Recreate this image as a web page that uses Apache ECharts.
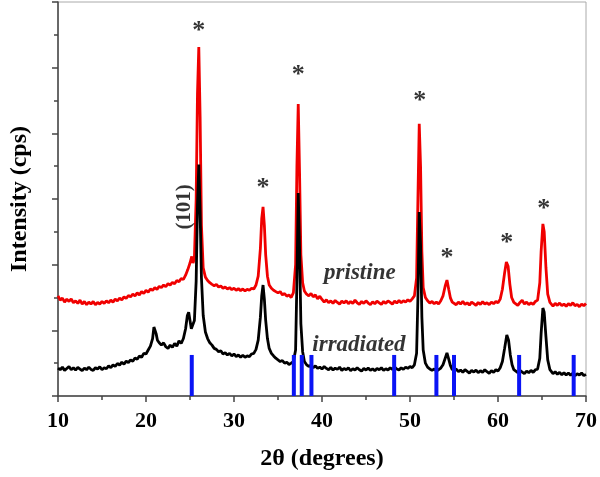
<!DOCTYPE html>
<html>
<head>
<meta charset="utf-8">
<script src="https://cdn.jsdelivr.net/npm/echarts@6/dist/echarts.min.js"></script>
<style>
  html, body { margin: 0; padding: 0; background: #fff; }
  #xrd { width: 600px; height: 477px; }
</style>
</head>
<body>
<div id="xrd"></div>
<script>
// x tick labels (2θ)
const xTicks = [10, 20, 30, 40, 50, 60, 70]

// irradiated (black) pattern, [2θ, intensity]
const irradiated = [
  [10.0, 0.85], [10.25, 0.80], [10.5, 0.88], [10.75, 0.78], [11.0, 0.84], [11.25, 0.90], [11.5, 0.80], [11.75, 0.86],
  [12.0, 0.79], [12.25, 0.87], [12.5, 0.82], [12.75, 0.77], [13.0, 0.85], [13.25, 0.80], [13.5, 0.88], [13.75, 0.81],
  [14.0, 0.78], [14.25, 0.86], [14.5, 0.82], [14.75, 0.89], [15.0, 0.80], [15.25, 0.86], [15.5, 0.83], [15.75, 0.92],
  [16.0, 0.86], [16.25, 0.95], [16.5, 0.90], [16.75, 0.99], [17.0, 0.94], [17.25, 1.03], [17.5, 0.97], [17.75, 1.06],
  [18.0, 1.02], [18.25, 1.10], [18.5, 1.06], [18.75, 1.16], [19.0, 1.12], [19.25, 1.22], [19.5, 1.18], [19.75, 1.30],
  [20.0, 1.28], [20.25, 1.40], [20.5, 1.52], [20.75, 1.75], [20.9, 2.10], [21.0, 2.15], [21.15, 1.90], [21.3, 1.70],
  [21.5, 1.62], [21.75, 1.55], [22.0, 1.62], [22.25, 1.50], [22.5, 1.45], [22.75, 1.55], [23.0, 1.48], [23.25, 1.60],
  [23.5, 1.52], [23.75, 1.68], [24.0, 1.60], [24.25, 1.75], [24.5, 2.05], [24.7, 2.45], [24.85, 2.55], [25.0, 2.30],
  [25.15, 2.05], [25.3, 2.00], [25.5, 2.30], [25.7, 3.50], [25.85, 5.80], [26.0, 7.05], [26.15, 5.60], [26.3, 3.60],
  [26.5, 2.45], [26.75, 1.95], [27.0, 1.75], [27.25, 1.62], [27.5, 1.55], [27.75, 1.45], [28.0, 1.42], [28.25, 1.35],
  [28.5, 1.38], [28.75, 1.28], [29.0, 1.32], [29.25, 1.25], [29.5, 1.30], [29.75, 1.22], [30.0, 1.28], [30.25, 1.20],
  [30.5, 1.25], [30.75, 1.18], [31.0, 1.24], [31.25, 1.18], [31.5, 1.22], [31.75, 1.20], [32.0, 1.28], [32.25, 1.30],
  [32.5, 1.42], [32.75, 1.70], [33.0, 2.40], [33.15, 3.05], [33.3, 3.38], [33.45, 2.95], [33.6, 2.30], [33.8, 1.75],
  [34.0, 1.45], [34.25, 1.30], [34.5, 1.22], [34.75, 1.15], [35.0, 1.10], [35.25, 1.05], [35.5, 1.08], [35.75, 1.00],
  [36.0, 1.03], [36.25, 0.96], [36.5, 1.00], [36.75, 1.05], [37.0, 1.40], [37.15, 3.50], [37.3, 6.18], [37.45, 4.50],
  [37.6, 2.20], [37.8, 1.35], [38.0, 1.05], [38.25, 0.95], [38.5, 0.90], [38.75, 0.94], [39.0, 0.86], [39.25, 0.92],
  [39.5, 0.84], [39.75, 0.88], [40.0, 0.82], [40.25, 0.90], [40.5, 0.84], [40.75, 0.80], [41.0, 0.87], [41.25, 0.79],
  [41.5, 0.85], [41.75, 0.81], [42.0, 0.88], [42.25, 0.78], [42.5, 0.84], [42.75, 0.80], [43.0, 0.86], [43.25, 0.77],
  [43.5, 0.83], [43.75, 0.79], [44.0, 0.86], [44.25, 0.80], [44.5, 0.76], [44.75, 0.84], [45.0, 0.79], [45.25, 0.85],
  [45.5, 0.78], [45.75, 0.83], [46.0, 0.77], [46.25, 0.84], [46.5, 0.80], [46.75, 0.86], [47.0, 0.78], [47.25, 0.83],
  [47.5, 0.79], [47.75, 0.86], [48.0, 0.81], [48.25, 0.88], [48.5, 0.82], [48.75, 0.79], [49.0, 0.86], [49.25, 0.81],
  [49.5, 0.88], [49.75, 0.84], [50.0, 0.90], [50.25, 0.86], [50.5, 0.95], [50.75, 1.30], [50.9, 3.00], [51.05, 5.60],
  [51.2, 4.60], [51.35, 2.40], [51.5, 1.40], [51.75, 1.00], [52.0, 0.88], [52.25, 0.82], [52.5, 0.78], [52.75, 0.82],
  [53.0, 0.76], [53.25, 0.80], [53.5, 0.85], [53.75, 0.95], [54.0, 1.15], [54.2, 1.31], [54.4, 1.12], [54.6, 0.92],
  [54.8, 0.80], [55.0, 0.76], [55.25, 0.82], [55.5, 0.74], [55.75, 0.79], [56.0, 0.72], [56.25, 0.80], [56.5, 0.75],
  [56.75, 0.70], [57.0, 0.78], [57.25, 0.73], [57.5, 0.79], [57.75, 0.71], [58.0, 0.77], [58.25, 0.72], [58.5, 0.80],
  [58.75, 0.74], [59.0, 0.69], [59.25, 0.77], [59.5, 0.72], [59.75, 0.80], [60.0, 0.76], [60.25, 0.86], [60.5, 1.05],
  [60.75, 1.45], [61.0, 1.86], [61.2, 1.70], [61.4, 1.25], [61.6, 0.95], [61.8, 0.80], [62.0, 0.76], [62.25, 0.71],
  [62.5, 0.78], [62.75, 0.73], [63.0, 0.68], [63.25, 0.76], [63.5, 0.71], [63.75, 0.78], [64.0, 0.72], [64.25, 0.80],
  [64.5, 0.82], [64.75, 1.15], [64.9, 1.90], [65.1, 2.68], [65.25, 2.55], [65.45, 1.80], [65.65, 1.10], [65.9, 0.80],
  [66.0, 0.75], [66.25, 0.68], [66.5, 0.74], [66.75, 0.66], [67.0, 0.72], [67.25, 0.65], [67.5, 0.71], [67.75, 0.64],
  [68.0, 0.70], [68.25, 0.63], [68.5, 0.69], [68.75, 0.62], [69.0, 0.68], [69.25, 0.64], [69.5, 0.70], [69.75, 0.62],
  [70.0, 0.66]
]

// pristine (red) pattern, [2θ, intensity]
const pristine = [
  [10.0, 3.05], [10.25, 2.92], [10.5, 2.98], [10.75, 2.86], [11.0, 2.95], [11.25, 2.88], [11.5, 2.96], [11.75, 2.84],
  [12.0, 2.90], [12.25, 2.82], [12.5, 2.92], [12.75, 2.80], [13.0, 2.88], [13.25, 2.78], [13.5, 2.86], [13.75, 2.80],
  [14.0, 2.88], [14.25, 2.78], [14.5, 2.85], [14.75, 2.80], [15.0, 2.88], [15.25, 2.82], [15.5, 2.90], [15.75, 2.84],
  [16.0, 2.92], [16.25, 2.86], [16.5, 2.95], [16.75, 2.90], [17.0, 2.98], [17.25, 2.93], [17.5, 3.02], [17.75, 2.97],
  [18.0, 3.06], [18.25, 3.02], [18.5, 3.10], [18.75, 3.05], [19.0, 3.14], [19.25, 3.08], [19.5, 3.18], [19.75, 3.12],
  [20.0, 3.22], [20.25, 3.16], [20.5, 3.26], [20.75, 3.22], [21.0, 3.30], [21.25, 3.25], [21.5, 3.34], [21.75, 3.30],
  [22.0, 3.38], [22.25, 3.33], [22.5, 3.42], [22.75, 3.38], [23.0, 3.46], [23.25, 3.42], [23.5, 3.52], [23.75, 3.48],
  [24.0, 3.58], [24.25, 3.55], [24.5, 3.68], [24.75, 3.85], [25.0, 4.05], [25.2, 4.25], [25.35, 4.05], [25.5, 4.20],
  [25.7, 6.00], [25.85, 9.20], [26.0, 10.63], [26.15, 8.50], [26.3, 5.20], [26.5, 3.90], [26.75, 3.62], [27.0, 3.52],
  [27.25, 3.45], [27.5, 3.40], [27.75, 3.36], [28.0, 3.40], [28.25, 3.32], [28.5, 3.35], [28.75, 3.28], [29.0, 3.32],
  [29.25, 3.26], [29.5, 3.30], [29.75, 3.24], [30.0, 3.28], [30.25, 3.22], [30.5, 3.27], [30.75, 3.21], [31.0, 3.26],
  [31.25, 3.20], [31.5, 3.25], [31.75, 3.22], [32.0, 3.28], [32.25, 3.26], [32.5, 3.38], [32.75, 3.65], [33.0, 4.50],
  [33.15, 5.40], [33.3, 5.76], [33.45, 5.20], [33.6, 4.30], [33.8, 3.65], [34.0, 3.38], [34.25, 3.28], [34.5, 3.22],
  [34.75, 3.18], [35.0, 3.14], [35.25, 3.18], [35.5, 3.08], [35.75, 3.12], [36.0, 3.04], [36.25, 3.08], [36.5, 3.00],
  [36.75, 3.15], [37.0, 4.00], [37.15, 7.00], [37.3, 8.89], [37.45, 6.80], [37.6, 4.30], [37.8, 3.45], [38.0, 3.20],
  [38.25, 3.10], [38.5, 3.05], [38.75, 3.12], [39.0, 3.02], [39.25, 3.08], [39.5, 2.96], [39.75, 3.04], [40.0, 2.94],
  [40.25, 2.86], [40.5, 2.93], [40.75, 2.84], [41.0, 2.90], [41.25, 2.82], [41.5, 2.91], [41.75, 2.85], [42.0, 2.80],
  [42.25, 2.89], [42.5, 2.83], [42.75, 2.90], [43.0, 2.81], [43.25, 2.88], [43.5, 2.82], [43.75, 2.92], [44.0, 2.84],
  [44.25, 2.79], [44.5, 2.88], [44.75, 2.82], [45.0, 2.90], [45.25, 2.83], [45.5, 2.78], [45.75, 2.87], [46.0, 2.81],
  [46.25, 2.89], [46.5, 2.84], [46.75, 2.79], [47.0, 2.88], [47.25, 2.82], [47.5, 2.90], [47.75, 2.85], [48.0, 2.80],
  [48.25, 2.89], [48.5, 2.83], [48.75, 2.91], [49.0, 2.84], [49.25, 2.90], [49.5, 2.86], [49.75, 2.93], [50.0, 2.88],
  [50.25, 2.96], [50.5, 3.05], [50.75, 3.60], [50.9, 6.00], [51.05, 8.29], [51.2, 7.00], [51.35, 4.40], [51.5, 3.30],
  [51.75, 3.00], [52.0, 2.90], [52.25, 2.83], [52.5, 2.88], [52.75, 2.81], [53.0, 2.86], [53.25, 2.80], [53.5, 2.90],
  [53.75, 3.05], [54.0, 3.35], [54.2, 3.53], [54.4, 3.25], [54.6, 2.98], [54.8, 2.86], [55.0, 2.84], [55.25, 2.78],
  [55.5, 2.86], [55.75, 2.80], [56.0, 2.88], [56.25, 2.79], [56.5, 2.84], [56.75, 2.77], [57.0, 2.86], [57.25, 2.81],
  [57.5, 2.76], [57.75, 2.85], [58.0, 2.79], [58.25, 2.87], [58.5, 2.80], [58.75, 2.84], [59.0, 2.78], [59.25, 2.86],
  [59.5, 2.81], [59.75, 2.88], [60.0, 2.84], [60.25, 2.95], [60.5, 3.25], [60.75, 3.75], [60.95, 4.08], [61.15, 3.95],
  [61.35, 3.40], [61.55, 3.00], [61.8, 2.85], [62.0, 2.82], [62.25, 2.76], [62.5, 2.85], [62.75, 2.92], [63.0, 2.80],
  [63.25, 2.86], [63.5, 2.78], [63.75, 2.84], [64.0, 2.79], [64.25, 2.88], [64.5, 2.92], [64.75, 3.45], [64.9, 4.40],
  [65.1, 5.24], [65.25, 5.00], [65.45, 3.90], [65.65, 3.10], [65.9, 2.85], [66.0, 2.80], [66.25, 2.74], [66.5, 2.82],
  [66.75, 2.76], [67.0, 2.83], [67.25, 2.75], [67.5, 2.80], [67.75, 2.73], [68.0, 2.81], [68.25, 2.76], [68.5, 2.84],
  [68.75, 2.75], [69.0, 2.79], [69.25, 2.72], [69.5, 2.80], [69.75, 2.75], [70.0, 2.82]
]

// reference (blue) peak positions and stick height
const refPeaks = [25.2, 36.8, 37.7, 38.8, 48.2, 53.0, 55.0, 62.4, 68.6]
const refHeight = 1.25

// asterisk marks over the pristine peaks
const starX = [26.0, 33.3, 37.3, 51.1, 54.2, 61.0, 65.2]
const starY = [11.3, 6.52, 9.96, 9.17, 4.39, 4.84, 5.88]

// text annotations [x, y, text]
const notes = [
  [24.4, 5.76, '(101)'],
  [44.3, 3.75, 'pristine'],
  [44.2, 1.55, 'irradiated']
]

const serif = 'Liberation Serif'

const option = {
  animation: false,
  backgroundColor: '#fff',
  grid: {
    left: 55,
    right: 11,
    top: 2,
    bottom: 81,
    show: true,
    borderColor: '#aaa',
    borderWidth: 1
  },
  xAxis: {
    type: 'value',
    min: 10,
    max: 70,
    interval: 10,
    name: '2θ (degrees)',
    nameLocation: 'middle',
    nameGap: 51,
    nameTextStyle: { fontFamily: serif, fontWeight: 'bold', fontSize: 24, color: '#000' },
    axisLine: { lineStyle: { color: '#444', width: 1.5 } },
    axisTick: { show: true, length: 6, lineStyle: { color: '#444', width: 1.5 } },
    minorTick: { show: true, splitNumber: 2, length: 4, lineStyle: { color: '#444', width: 1.5 } },
    splitLine: { show: false },
    axisLabel: {
      fontFamily: serif, fontWeight: 'bold', fontSize: 22, color: '#000', margin: 14,
      formatter: (v) => (xTicks.indexOf(v) >= 0 ? String(v) : '')
    }
  },
  yAxis: {
    type: 'value',
    min: 0,
    max: 12,
    interval: 2,
    name: 'Intensity (cps)',
    nameLocation: 'middle',
    nameGap: 26,
    nameTextStyle: { fontFamily: serif, fontWeight: 'bold', fontSize: 24, color: '#000' },
    axisLine: { show: true, lineStyle: { color: '#444', width: 1.5 } },
    axisTick: { show: true, length: 6, lineStyle: { color: '#444', width: 1.5 } },
    minorTick: { show: true, splitNumber: 2, length: 4, lineStyle: { color: '#444', width: 1.5 } },
    splitLine: { show: false },
    axisLabel: { show: false }
  },
  series: [
    {
      name: 'pristine',
      type: 'line',
      data: pristine,
      symbol: 'none',
      z: 2,
      lineStyle: { color: '#f00000', width: 2.8 }
    },
    {
      name: 'irradiated',
      type: 'line',
      data: irradiated,
      symbol: 'none',
      z: 3,
      lineStyle: { color: '#000', width: 2.8 }
    },
    {
      name: 'reference',
      type: 'bar',
      data: refPeaks.map((x) => [x, refHeight]),
      barWidth: 4,
      z: 4,
      itemStyle: { color: '#0a14f5' }
    },
    {
      name: 'stars',
      type: 'scatter',
      data: starX.map((x, i) => [x, starY[i]]),
      symbolSize: 0,
      z: 5,
      label: {
        show: true,
        position: 'inside',
        formatter: '*',
        offset: [0, 6],
        fontFamily: serif,
        fontWeight: 'bold',
        fontSize: 26,
        color: '#000'
      }
    },
    {
      name: 'notes',
      type: 'scatter',
      data: notes.map((n) => ({ value: [n[0], n[1]], name: n[2] })),
      symbolSize: 0,
      z: 5,
      label: {
        show: true,
        position: 'inside',
        formatter: (p) => p.name,
        fontFamily: serif,
        fontWeight: 'bold',
        fontStyle: 'italic',
        fontSize: 23,
        color: '#000'
      }
    }
  ]
}

// (101) is upright and reads bottom to top
option.series[4].data[0].label = { rotate: 90, fontStyle: 'normal', fontSize: 21 }

let myChart = echarts.init(document.getElementById('xrd'))
myChart.setOption(option)
</script>
</body>
</html>
